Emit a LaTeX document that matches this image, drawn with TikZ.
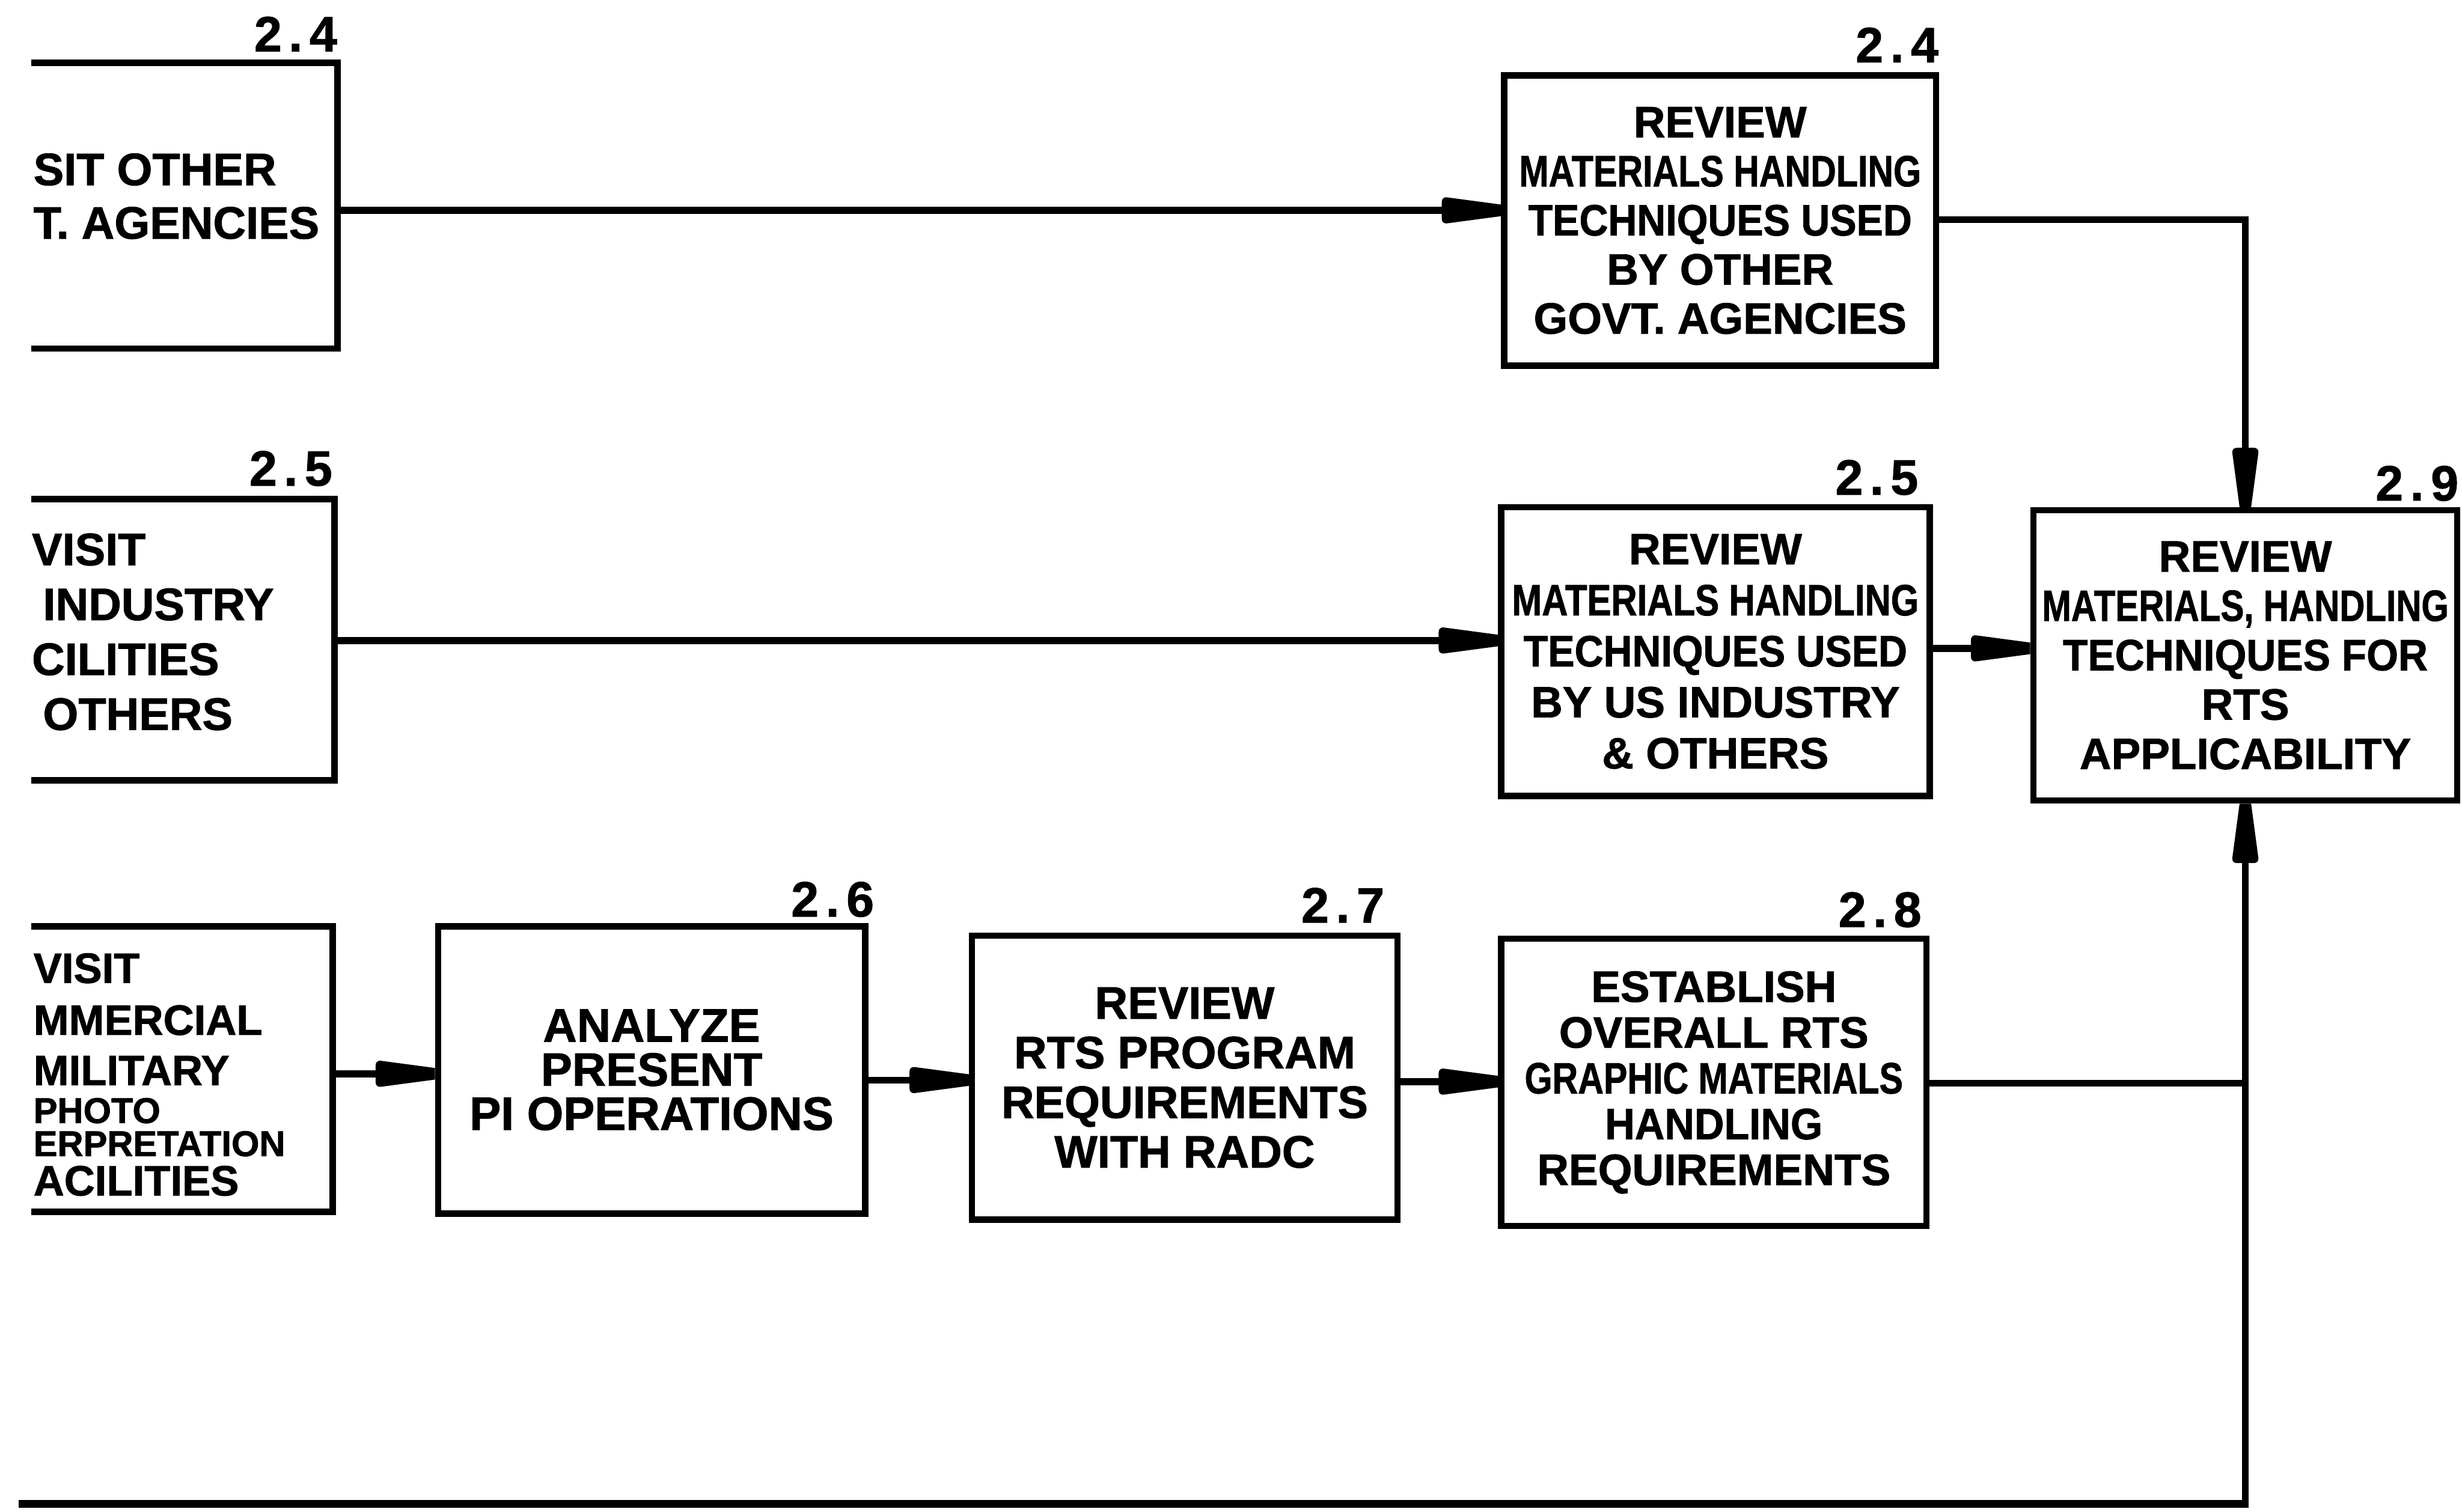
\documentclass[tikz,border=0pt]{standalone}
\usepackage{fontspec}
\setmainfont{Liberation Sans}[BoldFeatures={FakeBold=1.2}]
\newfontfamily\numfont{Liberation Sans}[LetterSpace=14, BoldFeatures={FakeBold=1.2}]
\usepackage{graphicx}
\usetikzlibrary{arrows.meta}

% blunt, tapered arrow head as lettered on the chart
\pgfdeclarearrow{
  name = Blunt,
  setup code = {
    \pgfarrowssettipend{0pt}
    \pgfarrowssetbackend{-21.5pt}
    \pgfarrowssetlineend{-15pt}
    \pgfarrowshullpoint{0pt}{2.1pt}
    \pgfarrowshullpoint{0pt}{-2.1pt}
    \pgfarrowshullpoint{-21.5pt}{4.9pt}
    \pgfarrowshullpoint{-21.5pt}{-4.9pt}
  },
  drawing code = {
    \pgfpathmoveto{\pgfqpoint{0pt}{2.1pt}}
    \pgfpathlineto{\pgfqpoint{-19.5pt}{4.7pt}}
    \pgfpathcurveto{\pgfqpoint{-21pt}{4.9pt}}{\pgfqpoint{-21.5pt}{4pt}}{\pgfqpoint{-21.5pt}{3pt}}
    \pgfpathlineto{\pgfqpoint{-21.5pt}{-3pt}}
    \pgfpathcurveto{\pgfqpoint{-21.5pt}{-4pt}}{\pgfqpoint{-21pt}{-4.9pt}}{\pgfqpoint{-19.5pt}{-4.7pt}}
    \pgfpathlineto{\pgfqpoint{0pt}{-2.1pt}}
    \pgfpathclose
    \pgfusepathqfill
  }
}

% horizontally condensed line of lettering
\newcommand\squeezed[2]{\scalebox{#1}[1]{#2}}

\begin{document}
\begin{tikzpicture}[x=0.02cm, y=-0.02cm,
  txt/.style 2 args={font={\bfseries\fontsize{#1}{#2}\selectfont}},
  box/.style={draw, line width=2.3pt, inner sep=0pt, align=center},
  num/.style={inner sep=0pt, anchor=south east, font={\numfont\bfseries\fontsize{18pt}{18pt}\selectfont}},
  flow/.style={line width=2.5pt, -{Blunt}},
  link/.style={line width=2.5pt},
  feedline/.style={line width=2.8pt},
]
\useasboundingbox (0,0) rectangle (1568,963);

% source boxes, cut off at the left margin of the sheet
\begin{scope}
  \clip (20,-60) rectangle (1640,1020);
  \node[box, minimum width=4.7cm, minimum height=3.64cm] (L1) at (97.5,131) {};
  \node[box, minimum width=4.66cm, minimum height=3.58cm] (L2) at (96.5,407.5) {};
  \node[box, minimum width=4.64cm, minimum height=3.64cm] (L3) at (96,681) {};
  \node[txt={16.5pt}{19.4pt}, align=left, anchor=west, inner sep=0pt] (L1t) at (21,125)
    {SIT OTHER\\T. AGENCIES};
  \node[txt={16.5pt}{19.9pt}, align=left, anchor=west, inner sep=0pt] (L2t) at (20,402.5)
    {VISIT\\\hspace*{0.14cm}INDUSTRY\\CILITIES\\\hspace*{0.14cm}OTHERS};
  \node[txt={15.4pt}{12pt}, align=left, anchor=west, inner sep=0pt] (L3t) at (21,684.5)
    {VISIT\\[0.24cm]MMERCIAL\\[0.22cm]MILITARY\\[0.06cm]{\fontsize{13pt}{12pt}\selectfont PHOTO}\\{\fontsize{13pt}{12pt}\selectfont ERPRETATION}\\[0.08cm]ACILITIES};
\end{scope}

% review boxes
\node[box, txt={15.9pt}{17.8pt}, minimum width=5.5cm, minimum height=3.7cm] (R1) at (1095.5,140.5)
  {REVIEW\\\squeezed{0.81}{MATERIALS HANDLING}\\\squeezed{0.91}{TECHNIQUES USED}\\BY OTHER\\GOVT. AGENCIES};
\node[box, txt={15.9pt}{18.5pt}, minimum width=5.46cm, minimum height=3.68cm] (R2) at (1092.5,415)
  {REVIEW\\\squeezed{0.82}{MATERIALS HANDLING}\\\squeezed{0.91}{TECHNIQUES USED}\\BY US INDUSTRY\\\& OTHERS};
\node[box, txt={15.9pt}{17.9pt}, minimum width=5.4cm, minimum height=3.7cm] (B29) at (1430,417.5)
  {REVIEW\\\squeezed{0.8}{MATERIALS, HANDLING}\\\squeezed{0.93}{TECHNIQUES FOR}\\RTS\\APPLICABILITY};

% lower chain
\node[box, txt={17pt}{16pt}, minimum width=5.44cm, minimum height=3.66cm] (B26) at (415,681.5)
  {ANALYZE\\PRESENT\\PI OPERATIONS};
\node[box, txt={16.5pt}{18pt}, minimum width=5.42cm, minimum height=3.62cm] (B27) at (754.5,686.5)
  {REVIEW\\RTS PROGRAM\\REQUIREMENTS\\WITH RADC};
\node[box, txt={15.9pt}{16.6pt}, minimum width=5.42cm, minimum height=3.66cm] (B28) at (1091.5,689.5)
  {ESTABLISH\\OVERALL RTS\\\squeezed{0.81}{GRAPHIC MATERIALS}\\\squeezed{0.94}{HANDLING}\\REQUIREMENTS};

% task numbers
\node[num, xshift=-1.1pt, yshift=2.8pt] (n1) at (L1.north east) {2.4};
\node[num, xshift=-1.7pt, yshift=3.4pt] (n2) at (L2.north east) {2.5};
\node[num, yshift=3.4pt] (n3) at (R1.north east) {2.4};
\node[num, xshift=-5.1pt, yshift=3pt] (n4) at (R2.north east) {2.5};
\node[num, xshift=-0.5pt, yshift=2pt] (n5) at (B29.north east) {2.9};
\node[num, xshift=2.3pt, yshift=2pt] (n6) at (B26.north east) {2.6};
\node[num, xshift=-5.7pt, yshift=3.4pt] (n7) at (B27.north east) {2.7};
\node[num, xshift=-2.8pt, yshift=2.8pt] (n8) at (B28.north east) {2.8};

% flow lines
\draw[flow] (L1.east |- 0,134) -- (R1.west |- 0,134);
\draw[flow] (L2.east |- 0,408) -- (R2.west |- 0,408);
\draw[flow] (R1.east |- 0,140) -| (B29.north);
\draw[flow] (R2.east |- 0,413) -- (B29.west |- 0,413);
\draw[flow] (L3.east |- 0,684) -- (B26.west |- 0,684);
\draw[flow] (B26.east |- 0,688) -- (B27.west |- 0,688);
\draw[flow] (B27.east |- 0,689) -- (B28.west |- 0,689);
\draw[link] (B28.east |- 0,690) -- (B29.south |- 0,690);

% return line along the foot of the sheet
\coordinate (feed) at (12,958);
\coordinate (turn) at (B29.south |- feed);
\draw[feedline] (feed) -- ([xshift=1.2pt]turn);
\draw[flow] (turn) -- (B29.south);
\end{tikzpicture}
\end{document}
